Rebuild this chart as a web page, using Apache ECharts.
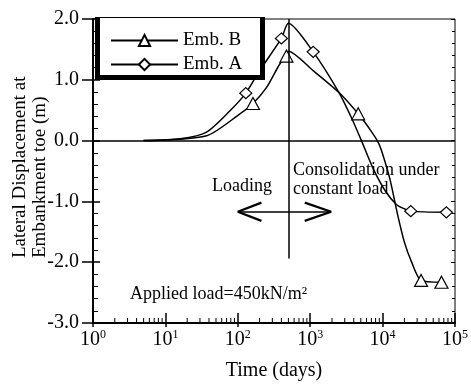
<!DOCTYPE html>
<html>
<head>
<meta charset="utf-8">
<script src="https://cdn.jsdelivr.net/npm/echarts@6/dist/echarts.min.js"></script>
<style>
  html, body { margin: 0; padding: 0; background: #fff; }
  #chart { width: 471px; height: 386px; }
</style>
</head>
<body>
<div id="chart"></div>
<script>
// values (days, lateral displacement in m)
const embADays = [5, 16, 37, 78, 129, 200, 400, 500, 1100, 2500, 3700, 5100, 7400, 11200, 15500, 19000, 24500, 76000];
const embADisp = [0.0, 0.03, 0.14, 0.49, 0.78, 1.15, 1.68, 1.93, 1.46, 0.79, 0.38, 0.0, -0.46, -0.85, -1.05, -1.11, -1.16, -1.18];
const embAMarkerDays = [129, 400, 1100, 24500, 76000];

const embBDays = [5, 37, 107, 162, 250, 380, 470, 500, 1100, 2500, 4600, 6900, 8700, 10000, 12600, 16200, 20000, 25000, 34000, 65000];
const embBDisp = [0.0, 0.08, 0.44, 0.61, 0.875, 1.26, 1.39, 1.47, 1.15, 0.79, 0.44, 0.16, -0.03, -0.22, -0.63, -1.23, -1.67, -1.99, -2.30, -2.33];
const embBMarkerDays = [162, 470, 4600, 34000, 65000];

const loadDay = 500;

const font = "Liberation Serif";

// log minor ticks 2..9 in each decade
const xMinorTicks = [];
for (let d = 0; d < 5; d++) {
  for (let m = 2; m <= 9; m++) xMinorTicks.push([m * Math.pow(10, d), -3]);
}

function buildData(days, disp, markers) {
  return days.map((d, i) => {
    const item = { value: [d, disp[i]] };
    if (!markers.includes(d)) item.symbol = "none";
    return item;
  });
}

const chart = echarts.init(document.getElementById("chart"));

const tickLabel = { fontFamily: font, fontSize: 20, color: "#000" };

const options = {
  animation: false,
  backgroundColor: "#fff",
  grid: { left: 93, right: 15, top: 19, bottom: 62, show: true, borderColor: "#000", borderWidth: 1 },
  legend: {
    data: ["Emb. B", "Emb. A"],
    orient: "vertical",
    left: 110,
    top: 31,
    padding: 0,
    itemGap: 5,
    itemWidth: 67,
    itemHeight: 14,
    z: 10,
    textStyle: { fontFamily: font, fontSize: 19, color: "#000" },
  },
  xAxis: [
    {
      type: "log", logBase: 10, min: 1, max: 100000, position: "bottom",
      name: "Time (days)", nameLocation: "middle", nameGap: 38,
      nameTextStyle: { fontFamily: font, fontSize: 20, color: "#000" },
      axisLine: { onZero: false, lineStyle: { color: "#000", width: 2 } },
      axisTick: { inside: false, length: 4, lineStyle: { color: "#000", width: 1.5 } },
      axisLabel: {
        margin: 6,
        formatter: (v) => "10{s|" + Math.round(Math.log10(v)) + "}",
        ...tickLabel,
        rich: { s: { fontFamily: font, fontSize: 12, color: "#000", verticalAlign: "top", padding: [0, 0, 10, 0] } },
      },
      splitLine: { show: false },
    },
    {
      type: "log", logBase: 10, min: 1, max: 100000, position: "bottom",
      axisLine: { show: false, onZero: false },
      axisTick: { inside: true, length: 10, lineStyle: { color: "#000", width: 1.5 } },
      axisLabel: { show: false },
      splitLine: { show: false },
    },
  ],
  yAxis: [
    {
      type: "value", min: -3, max: 2, interval: 1, position: "left",
      axisLine: { show: true, onZero: false, lineStyle: { color: "#000", width: 2 } },
      axisTick: { show: true, inside: false, length: 11, lineStyle: { color: "#000", width: 1.5 } },
      axisLabel: { margin: 14, formatter: (v) => v.toFixed(1), ...tickLabel },
      splitLine: { show: false },
    },
    {
      type: "value", min: -3, max: 2, interval: 1, position: "left",
      axisLine: { show: false, onZero: false },
      axisTick: { show: true, inside: true, length: 7, lineStyle: { color: "#000", width: 1.5 } },
      minorTick: { show: true, splitNumber: 5, length: 5, lineStyle: { color: "#000", width: 1 } },
      axisLabel: { show: false },
      splitLine: { show: false },
    },
    {
      type: "value", min: -3, max: 2, interval: 1, position: "right",
      axisLine: { show: false, onZero: false },
      axisTick: { show: true, inside: true, length: 4, lineStyle: { color: "#000", width: 1 } },
      minorTick: { show: true, splitNumber: 5, length: 3, lineStyle: { color: "#000", width: 1 } },
      axisLabel: { show: false },
      splitLine: { show: false },
    },
  ],
  graphic: [
    { type: "rect", z: 5, shape: { x: 95, y: 17, width: 170, height: 63 }, style: { fill: "#000" } },
    { type: "rect", z: 6, shape: { x: 100, y: 18, width: 160, height: 57 }, style: { fill: "#fff" } },
    {
      type: "text", x: 30, y: 258, rotation: Math.PI / 2, z: 6,
      style: {
        text: "Lateral Displacement at\nEmbankment toe (m)",
        font: "19px '" + font + "'", fill: "#000",
        align: "left", verticalAlign: "middle", textAlign: "left", textVerticalAlign: "middle", lineHeight: 20,
      },
    },
    { type: "text", x: 212, y: 186, z: 6, style: { text: "Loading", font: "18px '" + font + "'", fill: "#000", verticalAlign: "middle", textVerticalAlign: "middle" } },
    { type: "text", x: 293, y: 170, z: 6, style: { text: "Consolidation under", font: "18px '" + font + "'", fill: "#000", verticalAlign: "middle", textVerticalAlign: "middle" } },
    { type: "text", x: 293, y: 189, z: 6, style: { text: "constant load", font: "18px '" + font + "'", fill: "#000", verticalAlign: "middle", textVerticalAlign: "middle" } },
    { type: "text", x: 130, y: 294, z: 6, style: { text: "Applied load=450kN/m\u00b2", font: "18px '" + font + "'", fill: "#000", verticalAlign: "middle", textVerticalAlign: "middle" } },
  ],
  series: [
    {
      name: "Emb. B",
      type: "line",
      xAxisIndex: 0, yAxisIndex: 0,
      data: buildData(embBDays, embBDisp, embBMarkerDays),
      smooth: 0.25,
      symbol: "triangle",
      symbolSize: [13, 12],
      showAllSymbol: true,
      z: 3,
      lineStyle: { color: "#000", width: 1.5 },
      itemStyle: { color: "#fff", borderColor: "#000", borderWidth: 1.2 },
    },
    {
      name: "Emb. A",
      type: "line",
      xAxisIndex: 0, yAxisIndex: 0,
      data: buildData(embADays, embADisp, embAMarkerDays),
      smooth: 0.25,
      symbol: "diamond",
      symbolSize: [12, 11],
      showAllSymbol: true,
      z: 3,
      lineStyle: { color: "#000", width: 1.5 },
      itemStyle: { color: "#fff", borderColor: "#000", borderWidth: 1.2 },
      markLine: {
        silent: true,
        symbol: ["none", "none"],
        label: { show: false },
        lineStyle: { color: "#000", width: 1.5, type: "solid" },
        data: [
          { yAxis: 0 },
          [{ coord: [loadDay, 2] }, { coord: [loadDay, -1.94] }],
          [{ coord: [100, -1.17] }, { coord: [1950, -1.17] }],
          [{ coord: [100, -1.17] }, { coord: [212, -1.02], lineStyle: { width: 2.2 } }],
          [{ coord: [100, -1.17] }, { coord: [212, -1.32], lineStyle: { width: 2.2 } }],
          [{ coord: [1950, -1.17] }, { coord: [840, -1.02], lineStyle: { width: 2.2 } }],
          [{ coord: [1950, -1.17] }, { coord: [840, -1.32], lineStyle: { width: 2.2 } }],
        ],
      },
    },
    {
      type: "custom",
      xAxisIndex: 0, yAxisIndex: 0,
      silent: true,
      data: xMinorTicks,
      renderItem: (params, api) => {
        const p = api.coord([api.value(0), api.value(1)]);
        return {
          type: "line",
          shape: { x1: p[0], y1: p[1], x2: p[0], y2: p[1] - 5 },
          style: { stroke: "#000", lineWidth: 1 },
        };
      },
    },
  ],
};

chart.setOption(options);
window.addEventListener("resize", chart.resize);
</script>
</body>
</html>
